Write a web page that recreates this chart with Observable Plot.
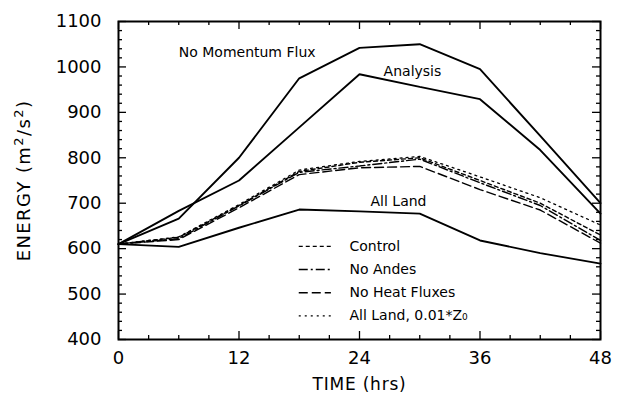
<!DOCTYPE html>
<html>
<head>
<meta charset="utf-8">
<script src="https://cdn.jsdelivr.net/npm/d3@7"></script>
<script src="https://cdn.jsdelivr.net/npm/@observablehq/plot@0.6"></script>
<style>
  html, body { margin: 0; padding: 0; background: #fff; }
  #chart svg { display: block; }
</style>
</head>
<body>
<div id="chart"></div>
<script>
// ---- data ----
const times = [0, 6, 12, 18, 24, 30, 36, 42, 48];
const noMomentumFlux = [610, 666, 800, 975, 1042, 1050, 995, 848, 700];
const analysis       = [610, 683, 750, 867, 984, 956, 929, 817, 677];
const allLand        = [610, 604, 646, 686, 682, 677, 618, 590, 567];
const control        = [610, 625, 695, 770, 790, 800, 750, 700, 630];
const noAndes        = [610, 622, 694, 768, 782, 797, 745, 695, 618];
const noHeatFluxes   = [610, 620, 690, 763, 778, 781, 730, 685, 612];
const allLandZ0      = [610, 626, 697, 773, 792, 803, 758, 712, 652];

const seriesNames = ["No Momentum Flux", "Analysis", "All Land", "Control", "No Andes", "No Heat Fluxes", "All Land, 0.01*Z₀"];
const seriesValues = [noMomentumFlux, analysis, allLand, control, noAndes, noHeatFluxes, allLandZ0];
const legendNames = ["Control", "No Andes", "No Heat Fluxes", "All Land, 0.01*Z₀"];
const xTicks = [0, 12, 24, 36, 48];
const yTicks = [400, 500, 600, 700, 800, 900, 1000, 1100];

const dash = {
  "No Momentum Flux": null, "Analysis": null, "All Land": null,
  "Control": "4,3", "No Andes": "9,3,2,3", "No Heat Fluxes": "9,4", "All Land, 0.01*Z₀": "2,4"
};
const widths = {
  "No Momentum Flux": 1.9, "Analysis": 1.9, "All Land": 1.9,
  "Control": 1.4, "No Andes": 1.4, "No Heat Fluxes": 1.4, "All Land, 0.01*Z₀": 1.3
};

const rows = [];
seriesNames.forEach((name, i) => times.forEach((t, j) => rows.push({series: name, t, v: seriesValues[i][j]})));

const font = "DejaVu Sans, sans-serif";
const W = 622, H = 408;
const mL = 118, mR = 22, mT = 21, mB = 69;
const pxX = 48 / (W - mL - mR);
const pxY = 700 / (H - mT - mB);

// inward frame ticks: major every 100 / 12 h, minor every 20 / 3 h
const yTickRows = d3.range(400, 1101, 20).map(v => ({v, len: (v % 100 === 0 ? 8 : 4)}));
const xTickRows = d3.range(0, 49, 3).map(t => ({t, len: (t % 12 === 0 ? 8 : 4)}));

const legX1 = 18.0, legX2 = 21.2, legTX = 23.0;
const legY0 = 605, legStep = 51;
const legend = legendNames.map((n, i) => ({name: n, v: legY0 - i * legStep}));

const labels = [
  {text: "No Momentum Flux", t: 6.0, v: 1032},
  {text: "Analysis", t: 26.4, v: 989},
  {text: "All Land", t: 25.1, v: 703}
];

const marks = [];
seriesNames.forEach(name => {
  marks.push(Plot.line(rows.filter(r => r.series === name), {
    x: "t", y: "v", stroke: "black", strokeWidth: widths[name],
    strokeDasharray: dash[name], strokeLinejoin: "miter"
  }));
});
marks.push(
  Plot.ruleY(yTickRows, {y: "v", x1: () => 0, x2: d => d.len * pxX, stroke: "black", strokeWidth: 1.3}),
  Plot.ruleY(yTickRows, {y: "v", x1: () => 48, x2: d => 48 - d.len * pxX, stroke: "black", strokeWidth: 1.3}),
  Plot.ruleX(xTickRows, {x: "t", y1: () => 400, y2: d => 400 + d.len * pxY, stroke: "black", strokeWidth: 1.3}),
  Plot.ruleX(xTickRows, {x: "t", y1: () => 1100, y2: d => 1100 - d.len * pxY, stroke: "black", strokeWidth: 1.3}),
  Plot.frame({stroke: "black", strokeWidth: 2})
);
legend.forEach(d => {
  marks.push(Plot.ruleY([d], {x1: legX1, x2: legX2, y: "v", stroke: "black",
    strokeWidth: widths[d.name], strokeDasharray: dash[d.name]}));
});
marks.push(
  Plot.text(legend, {x: legTX, y: "v", text: "name", textAnchor: "start", fontSize: 14, fill: "black", letterSpacing: 1.1}),
  Plot.text(labels, {x: "t", y: "v", text: "text", textAnchor: "start", fontSize: 14, fill: "black", letterSpacing: 1})
);

const chart = Plot.plot({
  width: W, height: H,
  marginLeft: mL, marginRight: mR, marginTop: mT, marginBottom: mB,
  style: {fontFamily: font, color: "black", background: "white"},
  x: {domain: [0, 48], ticks: xTicks, tickSize: 0, tickPadding: 12, tickFormat: d => String(d),
      label: "TIME (hrs)", labelAnchor: "center", labelOffset: 50, labelArrow: "none"},
  y: {domain: [400, 1100], ticks: yTicks, tickSize: 0, tickPadding: 17, tickFormat: d => String(d),
      label: "ENERGY (m2/s2)", labelAnchor: "center", labelOffset: 101, labelArrow: "none"},
  marks
});
chart.querySelectorAll('g[aria-label="x-axis tick label"], g[aria-label="y-axis tick label"]').forEach(g => g.setAttribute("font-size", 18));
chart.querySelectorAll('g[aria-label="x-axis label"]').forEach(g => { g.setAttribute("font-size", 17); g.setAttribute("letter-spacing", 0.8); });
chart.querySelectorAll('g[aria-label="y-axis label"]').forEach(g => { g.setAttribute("font-size", 18); g.setAttribute("letter-spacing", 1.4); });
const yl = chart.querySelector('g[aria-label="y-axis label"] text');
if (yl) {
  const ns = "http://www.w3.org/2000/svg";
  yl.textContent = "";
  const parts = [["ENERGY (m", 0, null], ["2", -7, 13], ["/s", 7, null], ["2", -7, 13], [")", 7, null]];
  parts.forEach(([s, dy, fs]) => {
    const ts = document.createElementNS(ns, "tspan");
    ts.textContent = s;
    if (dy) ts.setAttribute("dy", dy);
    if (fs) ts.setAttribute("font-size", fs);
    yl.appendChild(ts);
  });
}
document.getElementById("chart").appendChild(chart);
</script>
</body>
</html>
